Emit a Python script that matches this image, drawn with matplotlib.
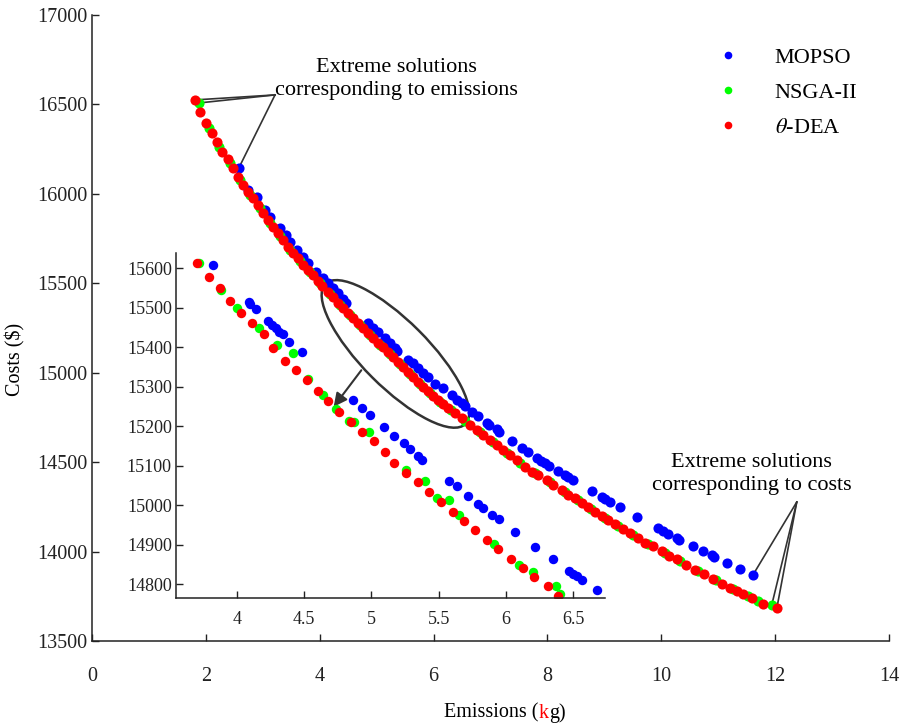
import matplotlib
matplotlib.use("Agg")
import matplotlib.pyplot as plt
from matplotlib import transforms
from matplotlib.lines import Line2D
from matplotlib.patches import Ellipse
from matplotlib.offsetbox import TextArea, HPacker, AnnotationBbox

plt.rcParams["font.family"] = ["Liberation Serif", "DejaVu Serif"]
plt.rcParams["mathtext.fontset"] = "stix"

# ---- Pareto fronts: emissions (kg) vs costs ($) ----
mopso_x = [2.58, 2.74, 2.90, 3.04, 3.13, 3.30, 3.41, 3.48, 3.60, 3.71, 3.79, 3.94, 4.06,
           4.15, 4.23, 4.32, 4.41, 4.46, 4.85, 4.94, 5.02, 5.15, 5.23, 5.32, 5.36, 5.55,
           5.64, 5.73, 5.81, 5.90, 6.03, 6.17, 6.32, 6.41, 6.50, 6.55, 6.68, 6.78, 6.94,
           6.97, 7.11, 7.15, 7.38, 7.55, 7.66, 7.82, 7.89, 7.96, 8.03, 8.19, 8.31, 8.36,
           8.45, 8.78, 8.96, 9.01, 9.10, 9.28, 9.57, 9.94, 10.03, 10.12, 10.28, 10.31,
           10.56, 10.73, 10.89, 10.93, 11.15, 11.38, 11.61]
mopso_y = [16145, 16022, 15982, 15910, 15871, 15809, 15770, 15731, 15686, 15647, 15613,
           15563, 15530, 15502, 15474, 15446, 15412, 15390, 15278, 15250, 15228, 15194,
           15166, 15138, 15121, 15071, 15054, 15026, 14998, 14976, 14937, 14915, 14875,
           14847, 14831, 14814, 14780, 14758, 14719, 14708, 14685, 14669, 14618, 14579,
           14557, 14523, 14506, 14495, 14478, 14450, 14428, 14417, 14400, 14339, 14305,
           14294, 14277, 14249, 14193, 14132, 14115, 14098, 14076, 14065, 14031, 14003,
           13981, 13970, 13936, 13903, 13869]

nsga_x = [1.88, 2.06, 2.23, 2.42, 2.60, 2.78, 2.95, 3.13, 3.30, 3.48, 3.65, 3.83, 4.01,
          4.18, 4.36, 4.53, 4.71, 4.88, 5.06, 5.23, 5.41, 5.59, 5.76, 5.94, 6.11, 6.31,
          6.55, 6.82, 7.04, 7.29, 7.52, 7.78, 8.05, 8.31, 8.54, 8.77, 9.01, 9.24, 9.50,
          9.77, 10.07, 10.33, 10.65, 10.96, 11.26, 11.52, 11.70, 11.94]
nsga_y = [16508, 16368, 16262, 16172, 16077, 15994, 15921, 15837, 15764, 15686, 15625,
          15563, 15502, 15440, 15379, 15323, 15267, 15211, 15155, 15105, 15049, 14993,
          14937, 14887, 14836, 14792, 14730, 14669, 14613, 14551, 14495, 14439, 14389,
          14333, 14288, 14238, 14188, 14143, 14093, 14042, 13992, 13947, 13891, 13841,
          13791, 13752, 13724, 13701]

dea_x = [1.81, 1.90, 2.00, 2.11, 2.20, 2.28, 2.39, 2.48, 2.57, 2.65, 2.74, 2.83, 2.92,
         3.00, 3.09, 3.18, 3.27, 3.36, 3.44, 3.53, 3.62, 3.71, 3.79, 3.88, 3.97, 4.04,
         4.15, 4.23, 4.32, 4.41, 4.50, 4.59, 4.67, 4.76, 4.85, 4.94, 5.02, 5.11, 5.20,
         5.29, 5.38, 5.46, 5.55, 5.64, 5.73, 5.81, 5.90, 5.99, 6.08, 6.17, 6.25, 6.38,
         6.50, 6.64, 6.76, 6.87, 6.99, 7.11, 7.22, 7.34, 7.47, 7.61, 7.73, 7.83, 7.99,
         8.10, 8.26, 8.36, 8.48, 8.61, 8.71, 8.84, 8.96, 9.06, 9.19, 9.33, 9.45, 9.59,
         9.71, 9.85, 10.01, 10.14, 10.28, 10.43, 10.59, 10.75, 10.91, 11.07, 11.21,
         11.33, 11.44, 11.59, 11.79, 12.03]
dea_y = [16525, 16458, 16396, 16340, 16290, 16234, 16195, 16145, 16094, 16050, 16010,
         15977, 15938, 15893, 15854, 15815, 15781, 15742, 15703, 15669, 15641, 15602,
         15574, 15546, 15513, 15485, 15451, 15423, 15390, 15362, 15334, 15306, 15278,
         15250, 15222, 15194, 15166, 15144, 15116, 15088, 15060, 15032, 15004, 14976,
         14948, 14920, 14898, 14870, 14847, 14825, 14803, 14775, 14747, 14708, 14680,
         14652, 14624, 14596, 14568, 14540, 14512, 14473, 14445, 14428, 14400, 14372,
         14344, 14316, 14300, 14272, 14249, 14221, 14199, 14177, 14154, 14126, 14104,
         14076, 14048, 14031, 14003, 13975, 13958, 13925, 13897, 13875, 13847, 13819,
         13796, 13780, 13763, 13740, 13707, 13684]

# ---- zoomed view (inset) ----
in_mopso_x = [3.82, 4.09, 4.10, 4.14, 4.23, 4.26, 4.29, 4.31, 4.34, 4.39, 4.48, 4.86,
              4.93, 4.99, 5.09, 5.17, 5.24, 5.29, 5.35, 5.38, 5.58, 5.64, 5.72, 5.79,
              5.83, 5.90, 5.95, 6.07, 6.22, 6.35, 6.47, 6.50, 6.53, 6.57, 6.68]
in_mopso_y = [15608, 15515, 15509, 15496, 15466, 15456, 15448, 15439, 15433, 15414,
              15387, 15265, 15246, 15229, 15199, 15174, 15157, 15142, 15125, 15115,
              15062, 15048, 15024, 15004, 14993, 14976, 14964, 14933, 14895, 14864,
              14833, 14827, 14821, 14810, 14785]

in_nsga_x = [3.72, 3.88, 4.00, 4.16, 4.30, 4.42, 4.53, 4.64, 4.74, 4.83, 4.87, 4.98,
             5.26, 5.40, 5.49, 5.58, 5.65, 5.91, 6.10, 6.20, 6.37, 6.40]
in_nsga_y = [15612, 15544, 15500, 15448, 15406, 15385, 15320, 15278, 15244, 15214,
             15211, 15184, 15088, 15062, 15018, 15012, 14975, 14902, 14848, 14832,
             14795, 14774]

in_dea_x = [3.70, 3.79, 3.87, 3.95, 4.03, 4.11, 4.20, 4.27, 4.36, 4.44, 4.52, 4.60,
            4.68, 4.76, 4.85, 4.93, 5.02, 5.10, 5.17, 5.26, 5.35, 5.43, 5.52, 5.61,
            5.69, 5.77, 5.86, 5.94, 6.04, 6.13, 6.21, 6.31, 6.39]
in_dea_y = [15612, 15577, 15549, 15517, 15487, 15460, 15433, 15399, 15366, 15341,
            15317, 15289, 15264, 15235, 15210, 15184, 15163, 15135, 15108, 15082,
            15059, 15034, 15008, 14982, 14959, 14937, 14913, 14890, 14865, 14842,
            14818, 14795, 14770]

labels = ["MOPSO", "NSGA-II", r"$\theta$-DEA"]
colors = ["#0000ff", "#00ff00", "#ff0000"]
ink = "#333333"

fig = plt.figure(figsize=(9.09, 7.26), dpi=100)
ax = fig.add_axes([0.1012, 0.1171, 0.8768, 0.8623])

ax.plot(mopso_x, mopso_y, "o", color=colors[0], ms=7.3, mec="none")
ax.plot(nsga_x, nsga_y, "o", color=colors[1], ms=7.3, mec="none")
ax.plot(dea_x, dea_y, "o", color=colors[2], ms=7.3, mec="none")

ax.set_xlim(0, 14)
ax.set_ylim(13500, 17000)
ax.set_xticks(range(0, 15, 2))
ax.set_yticks(range(13500, 17001, 500))
for s in ["top", "right"]:
    ax.spines[s].set_visible(False)
for s in ["left", "bottom"]:
    ax.spines[s].set_color("#222222")
    ax.spines[s].set_linewidth(1.1)
ax.tick_params(direction="in", length=5, width=1, labelsize=14.5, colors="#222222")
ax.tick_params(axis="x", pad=19)
ax.tick_params(axis="y", pad=3)

ax.set_ylabel(r"Costs (\$)", fontsize=14.5)
ax.yaxis.set_label_coords(-0.084, 0.449)

# x label with a red "k"
parts = [TextArea("Emissions (", textprops=dict(size=14.5)),
         TextArea("k", textprops=dict(size=14.5, color="red")),
         TextArea("g)", textprops=dict(size=14.5))]
box = HPacker(children=parts, pad=0, sep=0, align="baseline")
ax.add_artist(AnnotationBbox(box, (0.518, -0.115), xycoords="axes fraction",
                             frameon=False, annotation_clip=False))

# legend
handles = [Line2D([], [], ls="none", marker="o", color=c, ms=5.5, mec="none") for c in colors]
ax.legend(handles, labels, loc="upper left", bbox_to_anchor=(697 / 909, 1 - 27 / 726),
          bbox_transform=fig.transFigure, frameon=False, fontsize=16,
          handlelength=1, handletextpad=1.6, labelspacing=0.65)

# extreme-solution callouts
src = (3.215, 16553)
for xs, ys in [(dea_x, dea_y), (nsga_x, nsga_y), (mopso_x, mopso_y)]:
    ax.plot([src[0], xs[0]], [src[1], ys[0]], color=ink, lw=1.2, zorder=1)
ax.text(5.34, 16642, "Extreme solutions\ncorresponding to emissions", ha="center",
        va="center", fontsize=16, linespacing=1.25)

src = (12.38, 14277)
for xs, ys in [(dea_x, dea_y), (nsga_x, nsga_y), (mopso_x, mopso_y)]:
    ax.plot([src[0], xs[-1]], [src[1], ys[-1]], color=ink, lw=1.2, zorder=1)
ax.text(11.59, 14434, "Extreme solutions\ncorresponding to costs", ha="center",
        va="center", fontsize=16, linespacing=1.25)

# ellipse marking the zoomed region, sized in inches
tr = fig.dpi_scale_trans + transforms.ScaledTranslation(5.33, 15105, ax.transData)
ax.add_patch(Ellipse((0, 0), 1.98, 0.66, angle=-45, transform=tr, fill=False,
                     ec=ink, lw=1.8))
ax.annotate("", xy=(4.216, 14797), xytext=(4.76, 15026),
            arrowprops=dict(arrowstyle="-|>", color=ink, lw=1.5, mutation_scale=20))

# inset
axi = fig.add_axes([0.1936, 0.1763, 0.472, 0.475])
axi.patch.set_alpha(0)
axi.plot(in_mopso_x, in_mopso_y, "o", color=colors[0], ms=6.8, mec="none")
axi.plot(in_nsga_x, in_nsga_y, "o", color=colors[1], ms=6.8, mec="none")
axi.plot(in_dea_x, in_dea_y, "o", color=colors[2], ms=6.8, mec="none")
axi.set_xlim(3.546, 6.738)
axi.set_ylim(14765, 15638)
axi.set_xticks([4, 4.5, 5, 5.5, 6, 6.5])
axi.set_xticklabels(["4", "4.5", "5", "5.5", "6", "6.5"])
axi.set_yticks(range(14800, 15601, 100))
for s in ["top", "right"]:
    axi.spines[s].set_visible(False)
for s in ["left", "bottom"]:
    axi.spines[s].set_color("#222222")
    axi.spines[s].set_linewidth(1.1)
axi.tick_params(direction="in", length=5, width=1, labelsize=13, colors="#222222")
axi.tick_params(axis="x", pad=9)
axi.tick_params(axis="y", pad=3)

fig.savefig("out.png", dpi=100)
